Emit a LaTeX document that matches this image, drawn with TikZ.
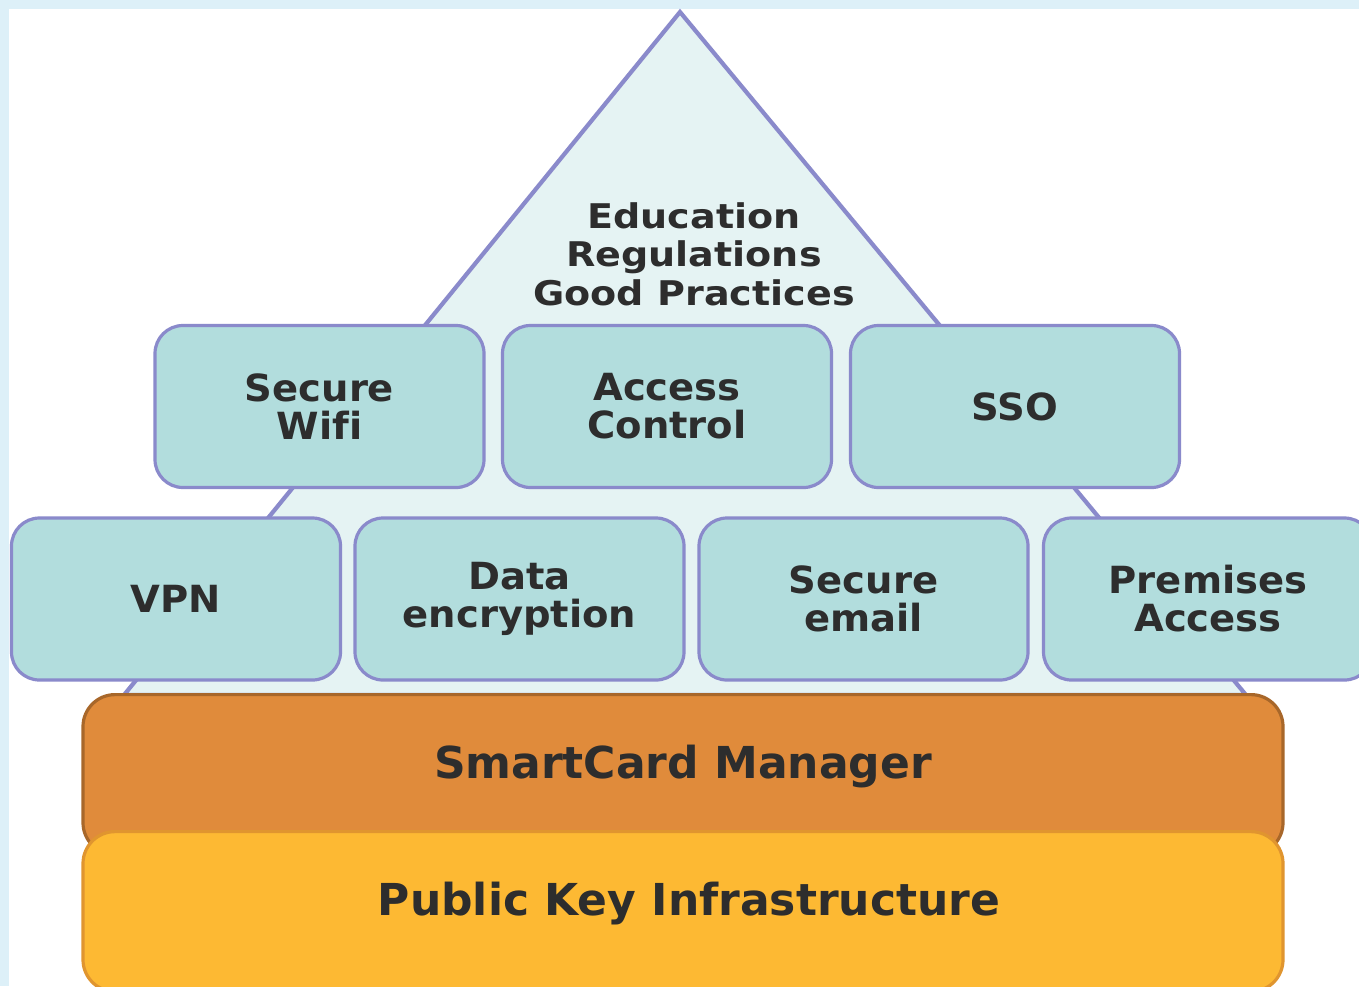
\documentclass[tikz,border=0pt]{standalone}
\usepackage{fontspec}
\setmainfont{DejaVu Sans}[Ligatures=NoCommon]
\newfontfamily\pyrfont{DejaVu Sans}[Ligatures=NoCommon,FakeStretch=1.12]
\newfontfamily\boxfont{DejaVu Sans}[Ligatures=NoCommon,FakeStretch=1.03]
\definecolor{bandblue}{HTML}{DDF0F8}
\definecolor{pyrfill}{HTML}{E5F3F3}
\definecolor{pyrline}{HTML}{8A8ACB}
\definecolor{boxfill}{HTML}{B2DDDD}
\definecolor{smartfill}{HTML}{E08B3B}
\definecolor{smartline}{HTML}{A8672A}
\definecolor{pkifill}{HTML}{FDB933}
\definecolor{pkiline}{HTML}{E0952F}
\definecolor{txt}{HTML}{2D2D2D}
\tikzset{
  svcbox/.style={draw=pyrline, fill=boxfill, line width=1.6pt, rounded corners=14pt,
    minimum width=164.5pt, minimum height=81pt, inner sep=0pt, align=center,
    text=txt, font=\boxfont\bfseries\fontsize{18.7}{19}\selectfont},
  layerbox/.style={line width=1.6pt, rounded corners=16pt,
    minimum width=600pt, inner sep=0pt, align=center},
  layertext/.style={text=txt, font=\bfseries\fontsize{22}{24}\selectfont},
}
\begin{document}
\begin{tikzpicture}[x=0.5pt,y=-0.5pt]
\useasboundingbox (0,0) rectangle (1359,986);
\clip (0,0) rectangle (1359,986);
\fill[white] (0,0) rectangle (1359,986);
\fill[bandblue] (0,0) rectangle (1359,9);
\fill[bandblue] (0,0) rectangle (9,986);
% pyramid
\draw[draw=pyrline, fill=pyrfill, line width=2.1pt, line join=miter]
  (680,12) coordinate (apex) -- (124,695) coordinate (bl) -- (1246,695) coordinate (br) -- cycle;
\node[align=center, text=txt, font=\pyrfont\bfseries\fontsize{17}{19.3}\selectfont] (top) at (694,254)
  {Education\\Regulations\\Good Practices};
% top row
\node[svcbox] (wifi) at (319.5,406.5) {Secure\\Wifi};
\node[svcbox] (access) at (667,406.5) {Access\\Control};
\node[svcbox] (sso) at (1015,406.5) {SSO};
% bottom row
\node[svcbox] (vpn) at (176,599) {VPN};
\node[svcbox] (data) at (519.5,599) {Data\\encryption};
\node[svcbox] (email) at (863.5,599) {Secure\\email};
\node[svcbox] (prem) at (1208,599) {Premises\\Access};
% layers
\node[layerbox, draw=smartline, fill=smartfill, minimum height=80pt, anchor=north] (smart) at (683,693) {};
\node[layertext] (smarttxt) at (683,767) {SmartCard Manager};
\node[layerbox, draw=pkiline, fill=pkifill, minimum height=80pt, anchor=north] (pki) at (683,830) {};
\node[layertext] (pkitxt) at (689,904) {Public Key Infrastructure};
\end{tikzpicture}
\end{document}
